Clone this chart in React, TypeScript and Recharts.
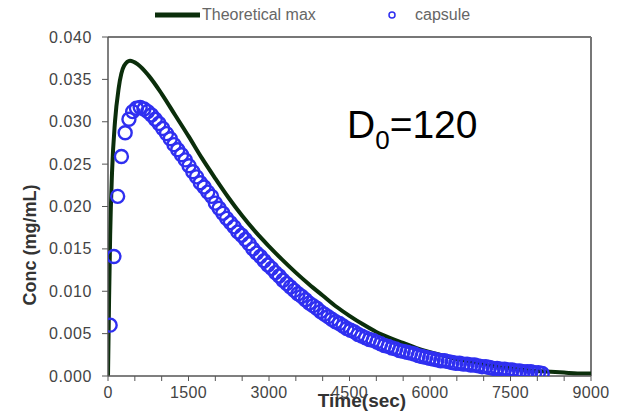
import React from 'react';
import { ComposedChart, Line, Scatter, XAxis, YAxis, ReferenceLine, Customized } from 'recharts';

// Theoretical max curve (time in sec, concentration in mg/mL)
const theoTimes = [0, 20, 40, 75, 130, 200, 300, 410, 550, 750, 1000, 1250, 1500, 1750, 2000, 2250, 2500, 2750, 3000, 3250, 3500, 3750, 4000, 4250, 4500, 4750, 5000, 5250, 5500, 5750, 6000, 6250, 6500, 6750, 7000, 7250, 7500, 7750, 8000, 8250, 8500, 8750, 9000];
const theoConc = [0, 0.009, 0.0165, 0.024, 0.03, 0.034, 0.0366, 0.0372, 0.0368, 0.0355, 0.0333, 0.0308, 0.0283, 0.0257, 0.0233, 0.021, 0.0189, 0.017, 0.0153, 0.0137, 0.0122, 0.0108, 0.0095, 0.0082, 0.0071, 0.0061, 0.0052, 0.0045, 0.0039, 0.0033, 0.0028, 0.0024, 0.002, 0.0017, 0.0014, 0.0011, 0.0009, 0.0007, 0.0006, 0.0005, 0.0004, 0.0003, 0.0003];

// Capsule measurements
const capTimes = [40, 110, 180, 250, 320, 390, 460, 530, 600, 670, 740, 810, 880, 950, 1020, 1090, 1160, 1230, 1300, 1370, 1440, 1510, 1580, 1650, 1720, 1790, 1860, 1930, 2000, 2070, 2140, 2210, 2280, 2350, 2420, 2490, 2560, 2630, 2700, 2770, 2840, 2910, 2980, 3050, 3120, 3190, 3260, 3330, 3400, 3470, 3540, 3610, 3680, 3750, 3820, 3890, 3960, 4030, 4100, 4170, 4240, 4310, 4380, 4450, 4520, 4590, 4660, 4730, 4800, 4870, 4940, 5010, 5080, 5150, 5220, 5290, 5360, 5430, 5500, 5570, 5640, 5710, 5780, 5850, 5920, 5990, 6060, 6130, 6200, 6270, 6340, 6410, 6480, 6550, 6620, 6690, 6760, 6830, 6900, 6970, 7040, 7110, 7180, 7250, 7320, 7390, 7460, 7530, 7600, 7670, 7740, 7810, 7880, 7950, 8020, 8090];
const capConc = [0.006, 0.0141, 0.0212, 0.0259, 0.0287, 0.0303, 0.0312, 0.0316, 0.0317, 0.0315, 0.0312, 0.0308, 0.0303, 0.0298, 0.0292, 0.0286, 0.028, 0.0273, 0.0267, 0.0261, 0.0255, 0.0248, 0.0241, 0.0235, 0.0228, 0.0223, 0.0217, 0.0212, 0.0204, 0.0198, 0.0192, 0.0186, 0.0181, 0.0176, 0.017, 0.0166, 0.0161, 0.0156, 0.015, 0.0145, 0.0141, 0.0136, 0.0131, 0.0127, 0.0122, 0.0118, 0.0113, 0.0109, 0.0105, 0.0101, 0.0097, 0.0094, 0.009, 0.0086, 0.0083, 0.008, 0.0076, 0.0073, 0.007, 0.0067, 0.0064, 0.0062, 0.0059, 0.0056, 0.0054, 0.0052, 0.0049, 0.0047, 0.0045, 0.0043, 0.0042, 0.004, 0.0038, 0.0036, 0.0035, 0.0033, 0.0032, 0.003, 0.0029, 0.0028, 0.0027, 0.0026, 0.0024, 0.0023, 0.0022, 0.0021, 0.002, 0.0019, 0.0018, 0.0018, 0.0017, 0.0016, 0.0015, 0.0015, 0.0014, 0.0014, 0.0013, 0.0013, 0.0012, 0.0011, 0.0011, 0.001, 0.0009, 0.0009, 0.0008, 0.0008, 0.0007, 0.0007, 0.0006, 0.0006, 0.0005, 0.0005, 0.0005, 0.0004, 0.0004, 0.0003];

const xTicks = [0, 500, 1000, 1500, 2000, 2500, 3000, 3500, 4000, 4500, 5000, 5500, 6000, 6500, 7000, 7500, 8000, 8500, 9000];
const xTickLabels = [0, 1500, 3000, 4500, 6000, 7500, 9000];
const yTicks = [0, 0.005, 0.01, 0.015, 0.02, 0.025, 0.03, 0.035, 0.04];

const theoData = theoTimes.map((t, i) => ({ t, c: theoConc[i] }));
const capData = capTimes.map((t, i) => ({ t, c: capConc[i] }));

const FONT = '"Liberation Sans", Arial, sans-serif';
const LINE_COLOR = '#0b2e0b';
const DOT_COLOR = '#2f2ff0';
const AXIS_COLOR = '#555';

const XTick = (props: any) => {
  const { x, y, payload } = props;
  if (!xTickLabels.includes(payload.value)) return null;
  return (
    <text x={x} y={y} dy={13} textAnchor="middle" fontFamily={FONT} fontSize={16} fill="#444" letterSpacing={0.3}>
      {payload.value}
    </text>
  );
};

const YTick = (props: any) => {
  const { x, y, payload } = props;
  return (
    <text x={x} y={y} dy={5.5} textAnchor="end" fontFamily={FONT} fontSize={16} fill="#444" letterSpacing={0.6}>
      {Number(payload.value).toFixed(3)}
    </text>
  );
};

const Ring = (props: any) => {
  const { cx, cy } = props;
  return <circle cx={cx} cy={cy} r={6.5} fill="none" stroke={DOT_COLOR} strokeWidth={2.4} />;
};

const Overlay = () => (
  <g>
    {/* legend */}
    <line x1={155} y1={15} x2={200} y2={15} stroke={LINE_COLOR} strokeWidth={5} />
    <text x={202} y={20} fontFamily={FONT} fontSize={16} fill="#666">Theoretical max</text>
    <circle cx={392} cy={15} r={3} fill="none" stroke={DOT_COLOR} strokeWidth={1.5} />
    <text x={415} y={20} fontFamily={FONT} fontSize={16} fill="#666">capsule</text>
    {/* axis titles */}
    <text x={362} y={407} textAnchor="middle" fontFamily={FONT} fontSize={19} fontWeight="bold" fill="#333">Time(sec)</text>
    <text x={36} y={245} transform="rotate(-90 36 245)" textAnchor="middle" fontFamily={FONT} fontSize={18} fontWeight="bold" fill="#333">Conc (mg/mL)</text>
    {/* annotation */}
    <text x={347} y={138} fontFamily={FONT} fontSize={39} fill="#000">
      D<tspan fontSize={26} dy={11}>0</tspan><tspan dy={-11}>=120</tspan>
    </text>
  </g>
);

export default function App() {
  return (
    <div style={{ position: 'absolute', left: 0, top: 0, width: 617, height: 420, background: '#fff' }}>
      <ComposedChart width={617} height={420} margin={{ top: 37, right: 26, bottom: 0, left: 0 }}>
        <XAxis
          type="number"
          dataKey="t"
          domain={[0, 9000]}
          ticks={xTicks}
          interval={0}
          height={44}
          tickSize={5}
          tickMargin={4}
          tick={<XTick />}
          axisLine={{ stroke: AXIS_COLOR, strokeWidth: 1.5 }}
          tickLine={{ stroke: AXIS_COLOR }}
          allowDataOverflow
        />
        <YAxis
          type="number"
          dataKey="c"
          domain={[0, 0.04]}
          ticks={yTicks}
          interval={0}
          width={108}
          tickSize={6}
          tickMargin={10}
          tick={<YTick />}
          axisLine={{ stroke: AXIS_COLOR, strokeWidth: 1.5 }}
          tickLine={{ stroke: AXIS_COLOR }}
          allowDataOverflow
        />
        <ReferenceLine y={0.04} stroke="#777" strokeWidth={2} />
        <ReferenceLine x={9000} stroke="#777" strokeWidth={2} />
        <Line data={theoData} dataKey="c" type="monotone" stroke={LINE_COLOR} strokeWidth={4} dot={false} activeDot={false} isAnimationActive={false} />
        <Scatter data={capData} dataKey="c" shape={<Ring />} isAnimationActive={false} />
        <Customized component={Overlay} />
      </ComposedChart>
    </div>
  );
}
